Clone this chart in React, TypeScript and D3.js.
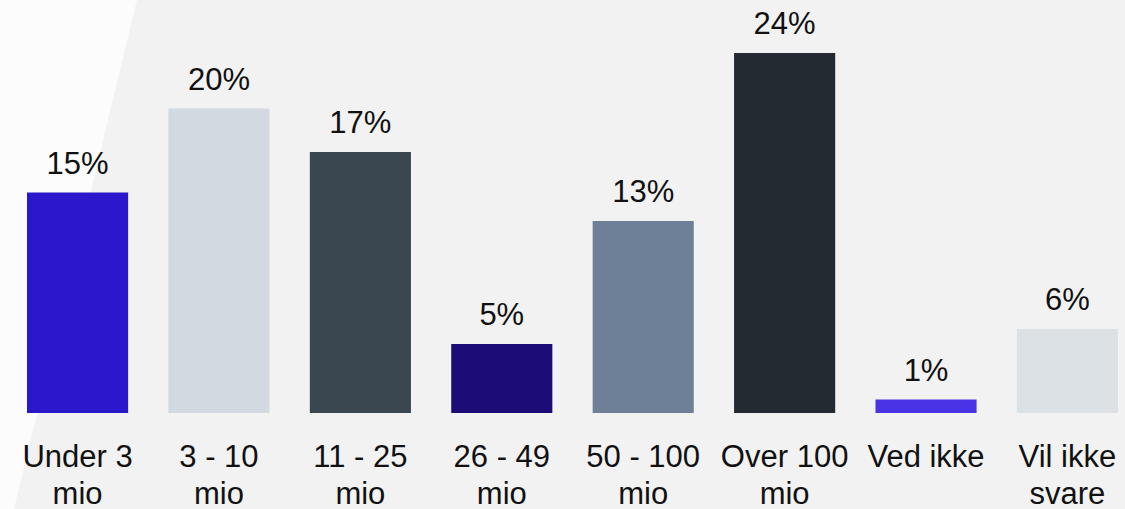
import React from "react";
import * as d3 from "d3";

const categories = [
  "Under 3\nmio",
  "3 - 10\nmio",
  "11 - 25\nmio",
  "26 - 49\nmio",
  "50 - 100\nmio",
  "Over 100\nmio",
  "Ved ikke",
  "Vil ikke\nsvare",
];
const values = [14.7, 20.3, 17.4, 4.6, 12.8, 24.0, 0.9, 5.6];
const valueLabels = ["15%", "20%", "17%", "5%", "13%", "24%", "1%", "6%"];
const colors = [
  "#2b18cc",
  "#d2d9e1",
  "#3a4650",
  "#1b0c78",
  "#6e8098",
  "#232a31",
  "#4a33e4",
  "#dce1e6",
];

const W = 1125;
const H = 509;
const FONT = "'Liberation Sans', Arial, sans-serif";

export default function App() {
  const x = d3
    .scaleBand<string>()
    .domain(categories)
    .range([27, 1118])
    .paddingInner(0.285)
    .paddingOuter(0);
  const y = d3.scaleLinear().domain([0, 24]).range([413, 53]);

  return (
    <svg
      width={W}
      height={H}
      style={{ position: "absolute", left: 0, top: 0, display: "block" }}
    >
      <rect x={0} y={0} width={W} height={H} fill="#f2f2f2" />
      <polygon points={`0,0 137,0 14,${H} 0,${H}`} fill="#fcfcfc" />
      {categories.map((c, i) => {
        const bx = x(c) as number;
        const bw = x.bandwidth();
        const cx = bx + bw / 2;
        const top = y(values[i]);
        const lines = c.split("\n");
        return (
          <g key={c}>
            <rect x={bx} y={top} width={bw} height={y(0) - top} fill={colors[i]} />
            <text
              x={cx}
              y={top - 19}
              textAnchor="middle"
              fontFamily={FONT}
              fontSize={31}
              fill="#111"
            >
              {valueLabels[i]}
            </text>
            {lines.map((l, j) => (
              <text
                key={j}
                x={cx}
                y={467 + j * 37}
                textAnchor="middle"
                fontFamily={FONT}
                fontSize={31}
                fill="#111"
              >
                {l}
              </text>
            ))}
          </g>
        );
      })}
    </svg>
  );
}
